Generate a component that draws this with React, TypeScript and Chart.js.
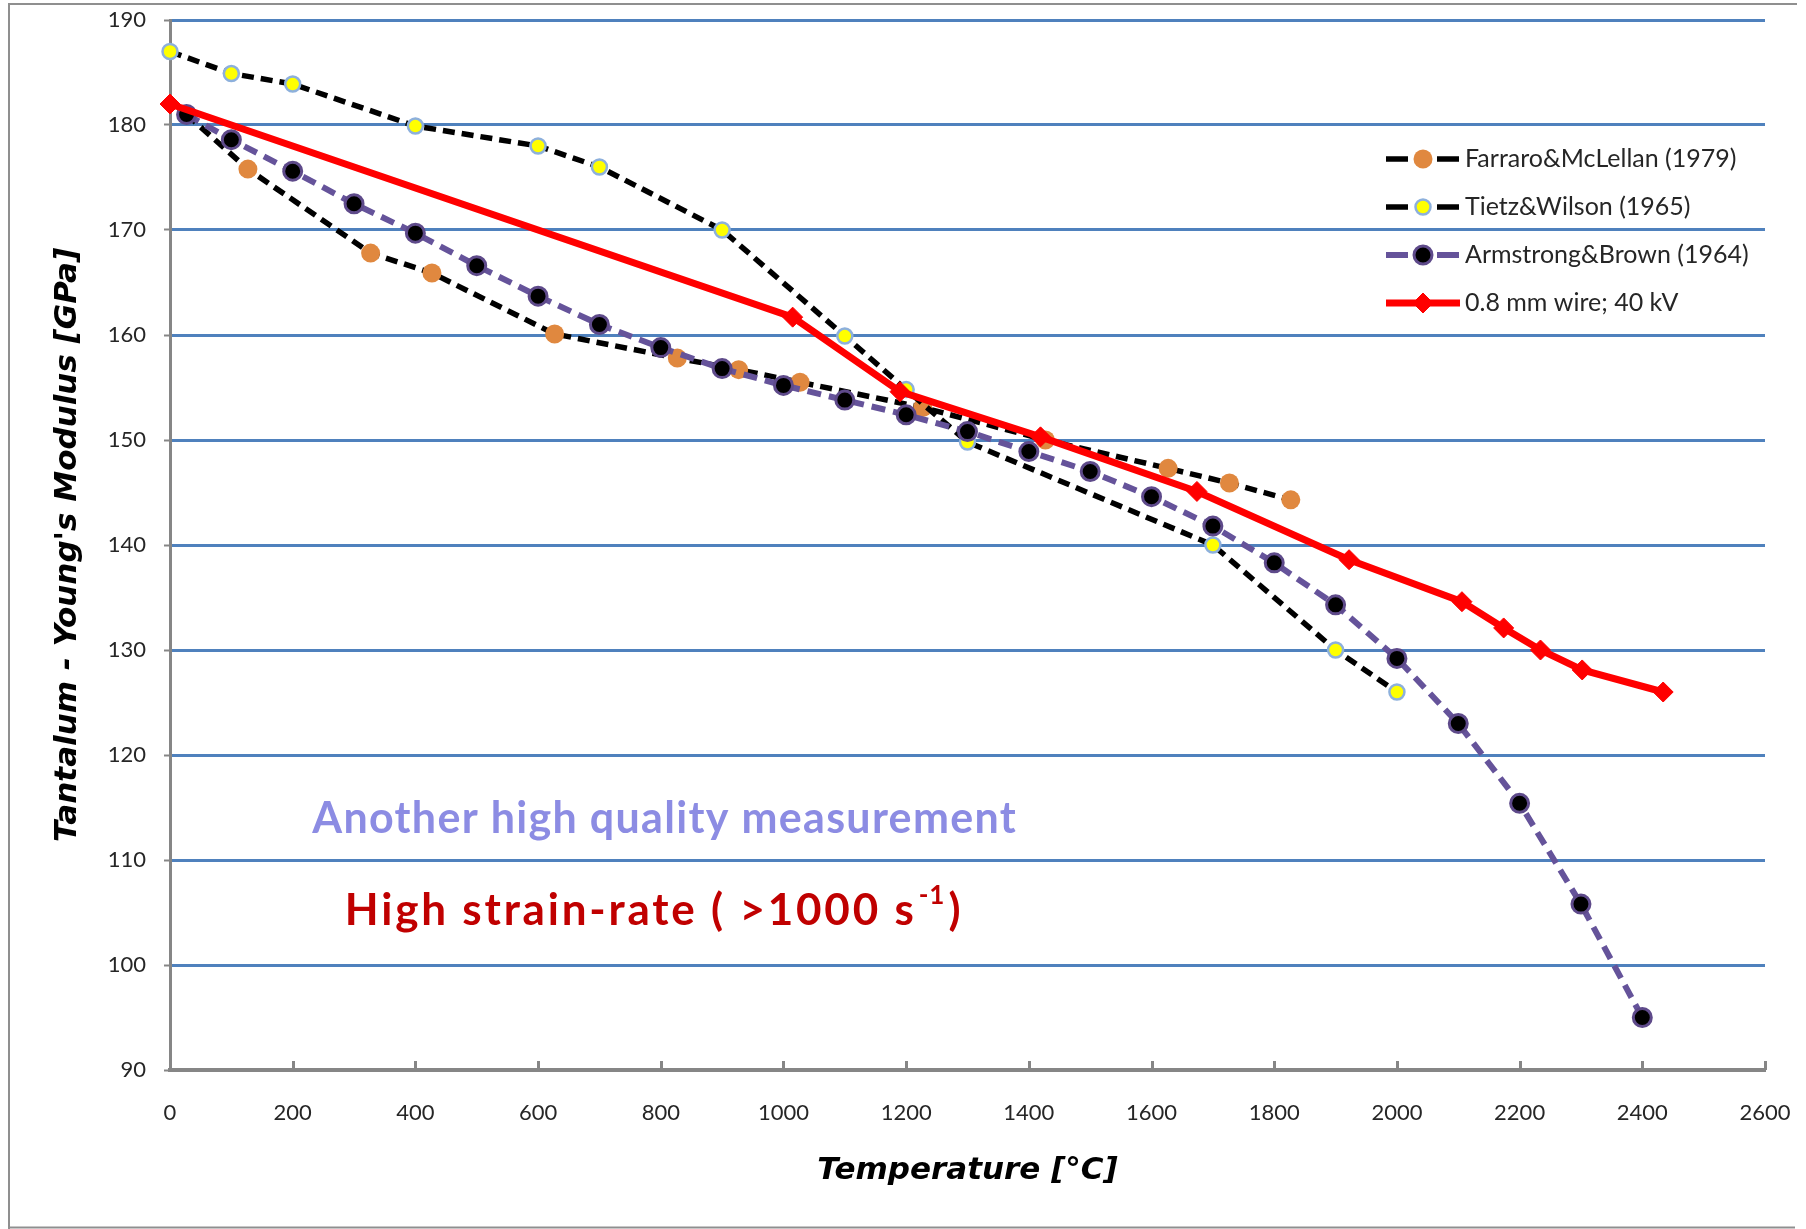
import React, { useEffect, useRef } from 'react';
import { Chart, registerables } from 'chart.js';

Chart.register(...registerables);

// ---- Data (temperature in °C, Young's modulus in GPa) ----
const farraroT = [27, 127, 327, 427, 627, 827, 927, 1027, 1227, 1427, 1627, 1727, 1827];
const farraroE = [181, 175.8, 167.8, 165.9, 160.1, 157.8, 156.7, 155.5, 153.1, 150, 147.3, 145.9, 144.3];

const tietzT = [0, 100, 200, 400, 600, 700, 900, 1100, 1200, 1300, 1700, 1900, 2000];
const tietzE = [187, 184.9, 183.9, 179.9, 178, 176, 170, 159.9, 154.8, 149.8, 140, 130, 126];

const armstrongT = [27, 100, 200, 300, 400, 500, 600, 700, 800, 900, 1000, 1100, 1200, 1300, 1400, 1500, 1600, 1700, 1800, 1900, 2000, 2100, 2200, 2300, 2400];
const armstrongE = [181, 178.6, 175.6, 172.5, 169.7, 166.6, 163.7, 161, 158.8, 156.8, 155.2, 153.8, 152.4, 150.8, 148.9, 147, 144.6, 141.8, 138.3, 134.3, 129.2, 123, 115.4, 105.8, 95];

const wireT = [0, 1015, 1190, 1419, 1674, 1922, 2106, 2174, 2234, 2302, 2434];
const wireE = [182, 161.7, 154.6, 150.3, 145.1, 138.6, 134.6, 132.1, 130, 128.1, 126];

const seriesLabels = ['Farraro&McLellan (1979)', 'Tietz&Wilson (1965)', 'Armstrong&Brown (1964)', '0.8 mm wire; 40 kV'];

const xTitle = 'Temperature [°C]';
const yTitle = "Tantalum - Young's Modulus [GPa]";

const note1 = { text: 'Another high quality measurement', x: 232, y: 113.9 };
const note2 = { main: 'High strain-rate ( >1000 s', sup: '-1', tail: ')', x: 285, y: 105.2 };

const toPts = (xs: number[], ys: number[]) => xs.map((x, i) => ({ x, y: ys[i] }));

const GRID_BLUE = '#4F81BD';
const AXIS_GRAY = '#868686';
const NOTE_FONT = '"Comic Sans MS", Lato, sans-serif';

const framePlugin = {
  id: 'frame',
  beforeDraw(chart: any) {
    const { ctx, width, height } = chart;
    ctx.save();
    ctx.fillStyle = '#ffffff';
    ctx.fillRect(0, 0, width, height);
    ctx.strokeStyle = '#8f8f8f';
    ctx.lineWidth = 2;
    ctx.beginPath();
    ctx.moveTo(9, height);
    ctx.lineTo(9, 4);
    ctx.lineTo(1797, 4);
    ctx.moveTo(9, height - 1.5);
    ctx.lineTo(1795, height - 1.5);
    ctx.stroke();
    ctx.restore();
  },
};

const innerTicksPlugin = {
  id: 'innerTicks',
  afterDraw(chart: any) {
    const { ctx } = chart;
    const xs = chart.scales.x;
    ctx.save();
    ctx.strokeStyle = AXIS_GRAY;
    ctx.lineWidth = 3;
    ctx.beginPath();
    xs.ticks.forEach((t: any) => {
      const px = Math.round(xs.getPixelForValue(t.value)) + 0.5;
      ctx.moveTo(px, xs.top);
      ctx.lineTo(px, xs.top - 9);
    });
    ctx.stroke();
    ctx.restore();
  },
};

function drawMarker(ctx: any, ds: any, x: number, y: number) {
  const r = ds.pointRadius;
  ctx.save();
  ctx.fillStyle = ds.pointBackgroundColor;
  ctx.strokeStyle = ds.pointBorderColor;
  ctx.lineWidth = ds.pointBorderWidth;
  ctx.setLineDash([]);
  ctx.beginPath();
  if (ds.pointStyle === 'rectRot') {
    ctx.moveTo(x, y - r);
    ctx.lineTo(x + r, y);
    ctx.lineTo(x, y + r);
    ctx.lineTo(x - r, y);
    ctx.closePath();
  } else {
    ctx.arc(x, y, r, 0, Math.PI * 2);
  }
  ctx.fill();
  if (ds.pointBorderWidth > 0) ctx.stroke();
  ctx.restore();
}

const legendPlugin = {
  id: 'customLegend',
  afterDraw(chart: any) {
    const { ctx, chartArea } = chart;
    const x0 = chartArea.right - 379;
    const offsets = [139, 187, 235, 283];
    chart.data.datasets.forEach((ds: any, i: number) => {
      const y = chartArea.top + offsets[i];
      ctx.save();
      ctx.strokeStyle = ds.borderColor;
      ctx.lineWidth = ds.borderWidth;
      ctx.lineCap = 'butt';
      ctx.beginPath();
      if (ds.borderDash && ds.borderDash.length) {
        ctx.moveTo(x0, y);
        ctx.lineTo(x0 + 22, y);
        ctx.moveTo(x0 + 51, y);
        ctx.lineTo(x0 + 73, y);
      } else {
        ctx.moveTo(x0, y);
        ctx.lineTo(x0 + 74, y);
      }
      ctx.stroke();
      ctx.restore();
      drawMarker(ctx, ds, x0 + 37, y);
      ctx.save();
      ctx.fillStyle = '#262626';
      ctx.font = '25px Lato';
      ctx.textBaseline = 'middle';
      ctx.textAlign = 'left';
      ctx.fillText(ds.label, x0 + 79, y);
      ctx.restore();
    });
  },
};

const notesPlugin = {
  id: 'notes',
  afterDraw(chart: any) {
    const { ctx } = chart;
    const xs = chart.scales.x;
    const ys = chart.scales.y;
    ctx.save();
    ctx.textBaseline = 'middle';
    ctx.textAlign = 'left';
    (ctx as any).letterSpacing = '1.3px';
    ctx.font = `bold 43px ${NOTE_FONT}`;
    ctx.fillStyle = '#8C8CE3';
    ctx.fillText(note1.text, xs.getPixelForValue(note1.x), ys.getPixelForValue(note1.y));

    const bx = xs.getPixelForValue(note2.x);
    const by = ys.getPixelForValue(note2.y);
    (ctx as any).letterSpacing = '2.8px';
    ctx.fillStyle = '#C00000';
    ctx.font = `bold 44px ${NOTE_FONT}`;
    ctx.fillText(note2.main, bx, by);
    let cx = bx + ctx.measureText(note2.main).width + 2;
    (ctx as any).letterSpacing = '1px';
    ctx.font = `bold 26px ${NOTE_FONT}`;
    ctx.fillText(note2.sup, cx, by - 15);
    cx += ctx.measureText(note2.sup).width + 3;
    (ctx as any).letterSpacing = '0px';
    ctx.font = `bold 44px ${NOTE_FONT}`;
    ctx.fillText(note2.tail, cx, by);
    ctx.restore();
  },
};

export default function App() {
  const canvasRef = useRef<HTMLCanvasElement | null>(null);

  useEffect(() => {
    if (!canvasRef.current) return;
    const tickFont = { family: 'Lato', size: 22 };
    const titleFont = { family: '"DejaVu Sans", sans-serif', size: 31, weight: 'bold' as const, style: 'italic' as const };
    const chart = new Chart(canvasRef.current, {
      type: 'line',
      data: {
        datasets: [
          {
            label: seriesLabels[0],
            data: toPts(farraroT, farraroE),
            borderColor: '#000000',
            borderWidth: 5.5,
            borderDash: [12, 7],
            pointStyle: 'circle',
            pointRadius: 9.5,
            pointBackgroundColor: '#E0883F',
            pointBorderColor: '#E0883F',
            pointBorderWidth: 0,
            clip: false,
            order: 4,
          },
          {
            label: seriesLabels[1],
            data: toPts(tietzT, tietzE),
            borderColor: '#000000',
            borderWidth: 5.5,
            borderDash: [12, 7],
            pointStyle: 'circle',
            pointRadius: 7.5,
            pointBackgroundColor: '#FFFF00',
            pointBorderColor: '#8DB0DC',
            pointBorderWidth: 2.5,
            clip: false,
            order: 3,
          },
          {
            label: seriesLabels[2],
            data: toPts(armstrongT, armstrongE),
            borderColor: '#65539A',
            borderWidth: 6,
            borderDash: [14, 8],
            pointStyle: 'circle',
            pointRadius: 9,
            pointBackgroundColor: '#000000',
            pointBorderColor: '#5E4A8A',
            pointBorderWidth: 3,
            clip: false,
            order: 2,
          },
          {
            label: seriesLabels[3],
            data: toPts(wireT, wireE),
            borderColor: '#FF0000',
            borderWidth: 7,
            pointStyle: 'rectRot',
            pointRadius: 10,
            pointBackgroundColor: '#FF0000',
            pointBorderColor: '#FF0000',
            pointBorderWidth: 1,
            clip: false,
            order: 1,
          },
        ] as any,
      },
      options: {
        animation: false,
        responsive: false,
        devicePixelRatio: 1,
        layout: { padding: { left: 0, top: 20, right: 41, bottom: 0 } },
        elements: { line: { tension: 0, fill: false } },
        plugins: { legend: { display: false }, tooltip: { enabled: false } },
        scales: {
          x: {
            type: 'linear',
            min: 0,
            max: 2600,
            ticks: {
              stepSize: 200,
              padding: 30,
              font: tickFont,
              color: '#262626',
              maxRotation: 0,
              autoSkip: false,
              callback: (v: any) => String(v),
            },
            grid: { display: false, drawTicks: false },
            border: { display: true, color: AXIS_GRAY, width: 4 },
            title: { display: true, text: xTitle, font: titleFont, color: '#000000', padding: { top: 0, bottom: 39 } },
            afterFit: (s: any) => {
              s.height = 159;
              s.paddingLeft = 0;
              s.paddingRight = 0;
            },
          },
          y: {
            type: 'linear',
            min: 90,
            max: 190,
            ticks: { stepSize: 10, padding: 18, font: tickFont, color: '#262626' },
            grid: {
              color: (c: any) => (c.tick && c.tick.value === 90 ? 'rgba(0,0,0,0)' : GRID_BLUE),
              lineWidth: 3,
              drawTicks: true,
              tickLength: 6,
              tickColor: AXIS_GRAY,
              tickWidth: 2,
            },
            border: { display: true, color: AXIS_GRAY, width: 3 },
            title: { display: true, text: yTitle, font: titleFont, color: '#000000', padding: { top: 49, bottom: 0 } },
            afterFit: (s: any) => {
              s.width = 170;
              s.paddingTop = 0;
              s.paddingBottom = 0;
            },
          },
        },
      } as any,
      plugins: [framePlugin, innerTicksPlugin, legendPlugin, notesPlugin],
    });
    return () => chart.destroy();
  }, []);

  return (
    <div style={{ position: 'fixed', left: 0, top: 0, width: 1806, height: 1229, background: '#ffffff' }}>
      <canvas ref={canvasRef} width={1806} height={1229} style={{ display: 'block' }} />
    </div>
  );
}
